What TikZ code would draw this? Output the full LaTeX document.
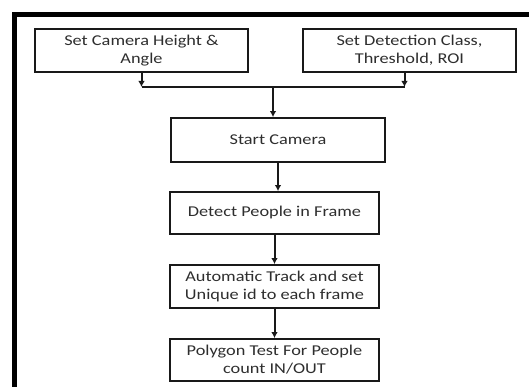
\documentclass[tikz,border=0pt]{standalone}
\usepackage{fontspec}
\setmainfont{Carlito}[FakeStretch=1.22]
\usetikzlibrary{arrows.meta}
\begin{document}
\begin{tikzpicture}[x=1pt,y=-1pt,
  box/.style={draw=black!90, line width=1.8pt, rectangle, align=center, inner sep=0pt,
    text=black!82, font=\fontsize{15}{18}\selectfont},
  arr/.style={draw=black!90, line width=2pt, -{Latex[length=6pt,width=6.5pt]}},
  ln/.style={draw=black!90, line width=2pt}]
\useasboundingbox (0,0) rectangle (529,387);
\draw[line width=5pt] (14.5,390) -- (14.5,14.5) -- (532,14.5);
\node[box, minimum width=213pt, minimum height=43pt] (b1) at (141.5,50.5) {Set Camera Height \&\\Angle};
\node[box, minimum width=213pt, minimum height=43pt] (b2) at (409.5,50.5) {Set Detection Class,\\Threshold, ROI};
\node[box, minimum width=214pt, minimum height=44pt] (start) at (278,140) {Start Camera};
\node[box, minimum width=209pt, minimum height=42pt] (detect) at (274.5,213) {Detect People in Frame};
\node[box, minimum width=209pt, minimum height=43pt] (track) at (274.5,286.5) {Automatic Track and set\\Unique id to each frame};
\node[box, minimum width=209pt, minimum height=42pt] (poly) at (274.5,360) {Polygon Test For People\\count IN/OUT};
\coordinate (j) at (273,87);
\coordinate (j1) at (b1.south |- j);
\coordinate (b2s) at ([xshift=-5pt]b2.south);
\coordinate (j2) at (b2s |- j);
\draw[ln] (j1) -- (j2);
\draw[arr] (b1.south) -- (j1);
\draw[arr] (b2s) -- (j2);
\draw[arr] (j) -- (j |- start.north);
\draw[arr] (start.south) -- (start.south |- detect.north);
\draw[arr] (detect.south) -- (track.north);
\draw[arr] (track.south) -- (poly.north);
\end{tikzpicture}
\end{document}
